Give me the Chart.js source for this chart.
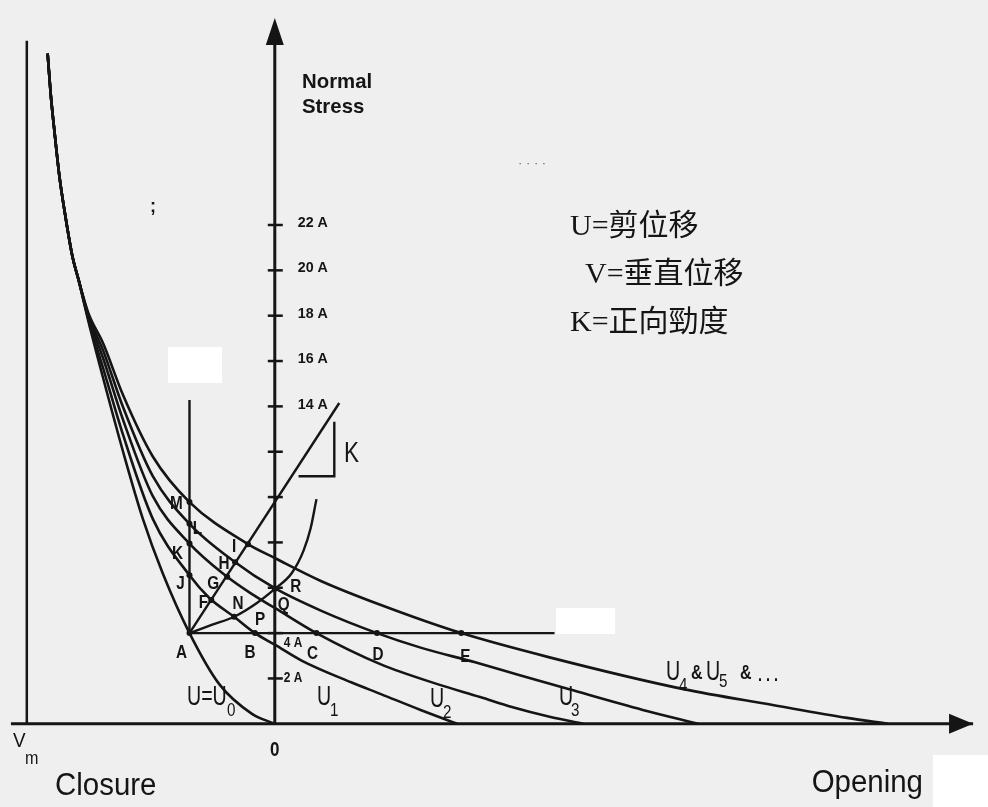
<!DOCTYPE html>
<html>
<head>
<meta charset="utf-8">
<script src="https://cdn.jsdelivr.net/npm/chart.js@4.4.1/dist/chart.umd.min.js"></script>
<style>
html, body { margin: 0; padding: 0; background: #efefef; overflow: hidden; }
#wrap { position: relative; width: 988px; height: 807px; }
</style>
</head>
<body>
<div id="wrap"><canvas id="c"></canvas></div>
<script>
// x = normal displacement (closure < 0 < opening), y = normal stress in units of A

// common steep part near Vm, shared by every curve
const trunkX = [-22.9, -22.6, -22.2, -21.7, -21.1, -20.4, -19.8];
const trunkY = [29.56, 27.82, 26.07, 24.10, 22.36, 20.61, 19.61];

const u0X = [-18.8, -17.3, -15.3, -13.3, -11.3, -8.6, -5.6, -2.3, 0];
const u0Y = [17.77, 15.24, 12.01, 9.04, 6.64, 4.0, 1.75, 0.44, 0];

const u1X = [-18.8, -17.3, -15.3, -12.3, -8.6, -6.6, -4.1, -2.0, 0, 2.7, 7.7, 10.7, 14.7, 18.4];
const u1Y = [17.86, 15.68, 12.75, 9.04, 6.55, 5.55, 4.72, 4.0, 3.49, 2.79, 1.83, 1.31, 0.61, 0];

const u2X = [-18.8, -17.3, -15.3, -12.3, -8.6, -5.0, -2.3, 0, 4.2, 10.7, 16.4, 20.7, 23.9, 27.7, 31.1];
const u2Y = [17.95, 16.11, 13.41, 10.04, 7.95, 6.55, 5.72, 5.11, 4.0, 2.62, 1.75, 1.18, 0.74, 0.31, 0];

const u3X = [-18.8, -17.3, -15.3, -12.3, -8.6, -4.1, 0, 4.7, 10.3, 14.7, 20.2, 24.7, 29.6, 37.1, 42.7];
const u3Y = [18.03, 16.46, 13.97, 10.92, 8.82, 7.16, 5.98, 4.98, 4.0, 3.36, 2.71, 2.14, 1.53, 0.61, 0];

const u4X = [-18.8, -17.3, -15.3, -12.3, -8.6, -2.8, 0.1, 4.7, 10.7, 18.8, 27.7, 41.2, 50.2, 57.7, 61.8];
const u4Y = [18.12, 16.77, 14.50, 11.79, 9.78, 7.95, 7.29, 6.29, 5.24, 4.0, 2.93, 1.53, 0.83, 0.26, 0];

// loading path starting at A
const pathX = [-8.6, -6.3, -4.1, -1.8, 0, 1.7, 2.9, 3.6, 4.2];
const pathY = [4.0, 4.37, 4.72, 5.33, 5.95, 6.64, 7.64, 8.60, 9.91];

// straight construction lines
const kLineX = [-8.6, 6.5];
const kLineY = [4.0, 14.15];
const vertLineX = [-8.6, -8.6];
const vertLineY = [4.0, 14.28];
const horzLineX = [-8.6, 28.2];
const horzLineY = [4.0, 4.0];
const kTriX = [2.4, 6.0, 6.0];
const kTriY = [10.92, 10.92, 13.32];

// axes
const xAxisX = [-26.6, 70.4];
const yAxisTop = 31.0;
const vmX = -25;
const vmTop = 30.13;

// marked points
const markNames = ['A', 'B', 'C', 'D', 'E', 'J', 'K', 'L', 'M', 'F', 'G', 'H', 'I', 'N', 'R'];
const markX = [-8.6, -2.0, 4.2, 10.3, 18.8, -8.6, -8.6, -8.6, -8.6, -6.4, -4.8, -4.0, -2.7, -4.1, 0];
const markY = [4.0, 4.0, 4.0, 4.0, 4.0, 6.55, 7.95, 8.82, 9.78, 5.46, 6.49, 7.12, 7.92, 4.72, 5.96];

// stress ticks on the vertical axis
const stressTicks = [2, 4, 6, 8, 10, 12, 14, 16, 18, 20, 22];
const stressLabels = ['2 A', '4 A', '', '', '', '', '14 A', '16 A', '18 A', '20 A', '22 A'];

const legendLines = ['U=剪位移', 'V=垂直位移', 'K=正向勁度'];

function pts(xs, ys) {
    return xs.map((x, i) => ({ x: x, y: ys[i] }));
}
function curve(xs, ys) {
    return pts(trunkX.concat(xs), trunkY.concat(ys));
}

const ink = '#151515';

function lineSet(data, width, smooth) {
    return {
        data: data,
        showLine: true,
        borderColor: ink,
        borderWidth: width,
        pointRadius: 0,
        fill: false,
        tension: 0,
        cubicInterpolationMode: smooth ? 'monotone' : 'default'
    };
}

function drawText(ctx, s, x, y, font, sx, align, base) {
    ctx.save();
    ctx.font = font;
    ctx.textAlign = align || 'left';
    ctx.textBaseline = base || 'middle';
    ctx.translate(x, y);
    ctx.scale(sx || 1, 1);
    ctx.fillText(s, 0, 0);
    ctx.restore();
}

const decor = {
    id: 'decor',
    beforeDraw(chart) {
        const ctx = chart.ctx;
        ctx.save();
        ctx.fillStyle = '#efefef';
        ctx.fillRect(0, 0, chart.width, chart.height);
        ctx.restore();
    },
    afterDatasetsDraw(chart) {
        const ctx = chart.ctx;
        const xs = chart.scales.x, ys = chart.scales.y;
        const px = v => xs.getPixelForValue(v);
        const py = v => ys.getPixelForValue(v);
        ctx.save();
        ctx.fillStyle = ink;
        ctx.strokeStyle = ink;

        // arrow heads
        const tipX = px(xAxisX[1]), tipY = py(0);
        ctx.beginPath();
        ctx.moveTo(tipX, tipY);
        ctx.lineTo(tipX - 24, tipY - 10);
        ctx.lineTo(tipX - 24, tipY + 10);
        ctx.closePath();
        ctx.fill();
        const topX = px(0), topY = py(yAxisTop);
        ctx.beginPath();
        ctx.moveTo(topX, topY - 3);
        ctx.lineTo(topX - 9, topY + 24);
        ctx.lineTo(topX + 9, topY + 24);
        ctx.closePath();
        ctx.fill();

        // stress ticks and labels
        ctx.lineWidth = 2.5;
        stressTicks.forEach((t, i) => {
            const y = py(t);
            ctx.beginPath();
            ctx.moveTo(topX - 7, y);
            ctx.lineTo(topX + 8, y);
            ctx.stroke();
            const lab = stressLabels[i];
            if (!lab) return;
            if (t <= 4) {
                drawText(ctx, lab, topX + 9, t === 4 ? y + 10 : y, 'bold 14px "Liberation Sans"', 0.85);
            } else {
                drawText(ctx, lab, topX + 23, y - 2, 'bold 15px "Liberation Sans"', 0.95);
            }
        });

        // point labels: [text, anchor, dx, dy]
        const tags = [
            ['A', 'A', -8, 20], ['B', 'B', -5, 20], ['C', 'C', -4, 21], ['D', 'D', 1, 22], ['E', 'E', 4, 24],
            ['J', 'J', -9, 9], ['K', 'K', -12, 10], ['L', 'L', 8, 5], ['M', 'M', -13, 2],
            ['F', 'F', -8, 3], ['G', 'G', -14, 7], ['H', 'H', -11, 2], ['I', 'I', -14, 3],
            ['N', 'N', 4, -13], ['P', 'N', 26, 3], ['Q', 'R', 9, 16], ['R', 'R', 21, -2]
        ];
        tags.forEach(t => {
            const k = markNames.indexOf(t[1]);
            drawText(ctx, t[0], px(markX[k]) + t[2], py(markY[k]) + t[3], 'bold 18px "Liberation Sans"', 0.85, 'center');
        });

        // curve names
        const big = '28px "Liberation Sans"', sub = '19px "Liberation Sans"';
        drawText(ctx, 'U=U', 187, 697, big, 0.7);
        drawText(ctx, '0', 227, 711, sub, 0.8);
        drawText(ctx, 'U', 317, 697, big, 0.7);
        drawText(ctx, '1', 330, 711, sub, 0.8);
        drawText(ctx, 'U', 430, 699, big, 0.7);
        drawText(ctx, '2', 443, 713, sub, 0.8);
        drawText(ctx, 'U', 559, 697, big, 0.7);
        drawText(ctx, '3', 571, 711, sub, 0.8);
        drawText(ctx, 'U', 666, 672, big, 0.7);
        drawText(ctx, '4', 679, 686, sub, 0.8);
        drawText(ctx, '&', 691, 673, 'bold 20px "Liberation Sans"', 0.8);
        drawText(ctx, 'U', 706, 672, big, 0.7);
        drawText(ctx, '5', 719, 682, sub, 0.8);
        drawText(ctx, '&', 740, 673, 'bold 20px "Liberation Sans"', 0.8);
        drawText(ctx, '. . .', 758, 676, 'bold 18px "Liberation Sans"', 0.8);

        // stiffness triangle label
        drawText(ctx, 'K', 344, 454, '30px "Liberation Sans"', 0.75);

        // axis titles
        drawText(ctx, 'Normal', 302, 88, 'bold 21px "Liberation Sans"', 0.97, 'left', 'alphabetic');
        drawText(ctx, 'Stress', 302, 113, 'bold 21px "Liberation Sans"', 0.97, 'left', 'alphabetic');
        drawText(ctx, '0', topX, 750, 'bold 20px "Liberation Sans"', 0.85, 'center');
        drawText(ctx, 'V', 13, 747, '21px "Liberation Sans"', 0.9, 'left', 'alphabetic');
        drawText(ctx, 'm', 25, 764, '19px "Liberation Sans"', 0.85, 'left', 'alphabetic');
        drawText(ctx, 'Closure', 55, 795, '31px "Liberation Sans"', 0.95, 'left', 'alphabetic');
        drawText(ctx, 'Opening', 923, 792, '31px "Liberation Sans"', 0.95, 'right', 'alphabetic');

        // legend in Chinese
        const cjk = '30px "Liberation Serif", "Noto Sans CJK TC"';
        drawText(ctx, legendLines[0], 570, 227, cjk);
        drawText(ctx, legendLines[1], 585, 275, cjk);
        drawText(ctx, legendLines[2], 570, 323, cjk);

        // scan specks
        drawText(ctx, ';', 150, 207, 'bold 18px "Liberation Sans"');
        ctx.fillStyle = '#666';
        drawText(ctx, '· · · ·', 518, 163, '13px "Liberation Sans"');

        // white paper patches
        ctx.fillStyle = '#ffffff';
        ctx.fillRect(168, 347, 54, 36);
        ctx.fillRect(556, 608, 59, 26);
        ctx.fillRect(933, 755, 55, 52);
        ctx.restore();
    }
};

new Chart(document.getElementById('c'), {
    type: 'scatter',
    data: {
        datasets: [
            lineSet(pts(xAxisX, [0, 0]), 3, false),
            lineSet(pts([0, 0], [0, yAxisTop - 0.8]), 3, false),
            lineSet(pts([vmX, vmX], [0, vmTop]), 2.5, false),
            lineSet(curve(u0X, u0Y), 2.6, true),
            lineSet(curve(u1X, u1Y), 2.6, true),
            lineSet(curve(u2X, u2Y), 2.6, true),
            lineSet(curve(u3X, u3Y), 2.6, true),
            lineSet(curve(u4X, u4Y), 2.6, true),
            lineSet(pts(pathX, pathY), 2.4, true),
            lineSet(pts(kLineX, kLineY), 2.4, false),
            lineSet(pts(vertLineX, vertLineY), 2.4, false),
            lineSet(pts(horzLineX, horzLineY), 2.4, false),
            lineSet(pts(kTriX, kTriY), 2.4, false),
            {
                data: pts(markX, markY),
                showLine: false,
                pointRadius: 3,
                pointBackgroundColor: ink,
                pointBorderColor: ink,
                pointBorderWidth: 0
            }
        ]
    },
    options: {
        responsive: true,
        maintainAspectRatio: false,
        animation: false,
        layout: { padding: 0 },
        plugins: { legend: { display: false }, tooltip: { enabled: false } },
        scales: {
            x: { type: 'linear', display: false, min: -27.3, max: 71.5 },
            y: { type: 'linear', display: false, min: -3.493, max: 31.747 }
        }
    },
    plugins: [decor]
});
</script>
</body>
</html>
